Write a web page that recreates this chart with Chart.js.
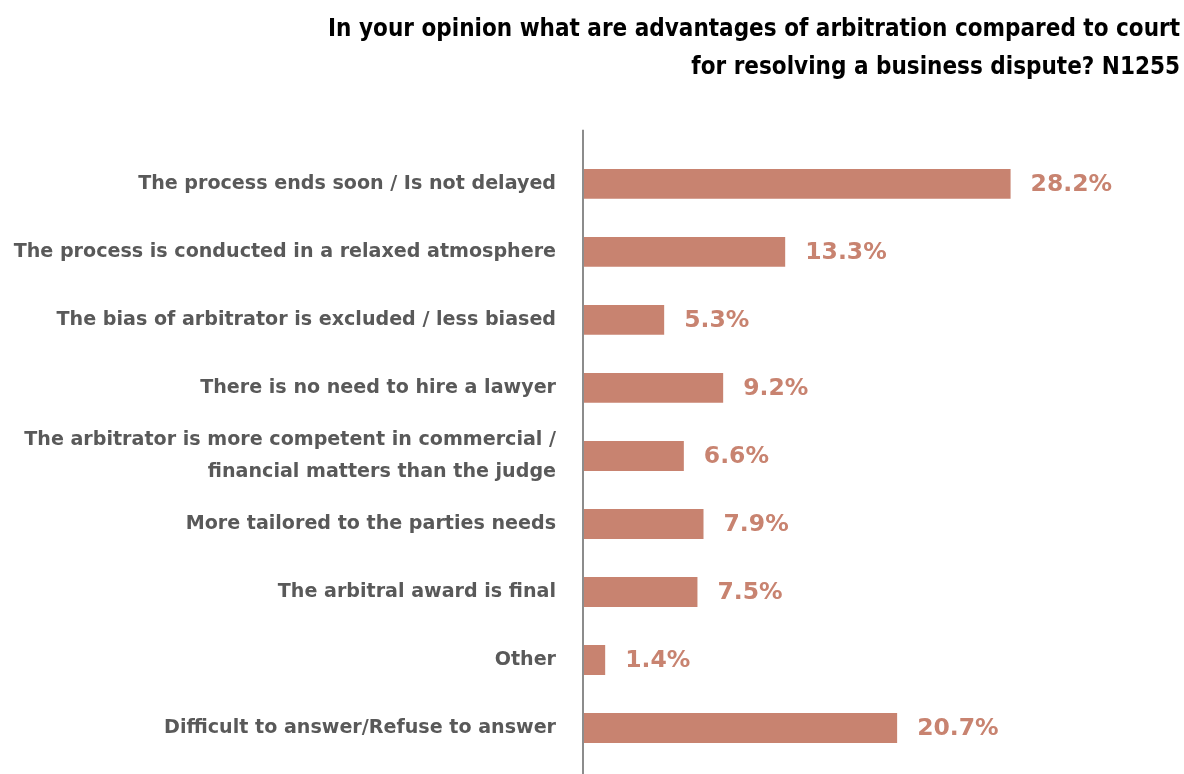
<!DOCTYPE html>
<html>
<head>
<meta charset="utf-8">
<script src="https://cdn.jsdelivr.net/npm/chart.js@4"></script>
<style>
  html, body { margin: 0; padding: 0; background: #fff; }
  #wrap { width: 1184px; height: 774px; }
</style>
</head>
<body>
<div id="wrap"><canvas id="arbChart" width="1184" height="774"></canvas></div>
<script>
const categories = [
    'The process ends soon / Is not delayed',
    'The process is conducted in a relaxed atmosphere',
    'The bias of arbitrator is excluded / less biased',
    'There is no need to hire a lawyer',
    ['The arbitrator is more competent in commercial /', 'financial matters than the judge'],
    'More tailored to the parties needs',
    'The arbitral award is final',
    'Other',
    'Difficult to answer/Refuse to answer'
];

const shares = [28.2, 13.3, 5.3, 9.2, 6.6, 7.9, 7.5, 1.4, 20.7];

const titleLines = [
    'In your opinion what are advantages of arbitration compared to court',
    'for resolving a business dispute? N1255'
];

const barColor = 'rgb(200, 131, 112)';
const labelGray = '#595959';

// vertical baseline at zero, runs a bit past the plot area
const baselinePlugin = {
    id: 'baseline',
    afterDatasetsDraw(chart) {
        const { ctx, chartArea, scales } = chart;
        const x0 = Math.round(scales.x.getPixelForValue(0)) - 1;
        ctx.save();
        ctx.strokeStyle = '#8c8c8c';
        ctx.lineWidth = 2;
        ctx.beginPath();
        ctx.moveTo(x0, chartArea.top - 20);
        ctx.lineTo(x0, chart.height);
        ctx.stroke();
        ctx.restore();
    }
};

// percentage written just after each bar
const valueLabels = {
    id: 'valueLabels',
    afterDatasetsDraw(chart) {
        const { ctx } = chart;
        const meta = chart.getDatasetMeta(0);
        ctx.save();
        ctx.fillStyle = barColor;
        ctx.font = 'bold 23.5px "DejaVu Sans"';
        ctx.textAlign = 'left';
        ctx.textBaseline = 'middle';
        meta.data.forEach((bar, i) => {
            ctx.fillText(shares[i].toFixed(1) + '%', bar.x + 20, bar.y + 1);
        });
        ctx.restore();
    }
};

const ctx = document.getElementById('arbChart').getContext('2d');
const arbChart = new Chart(ctx, {
    type: 'bar',
    data: {
        labels: categories,
        datasets: [{
            data: shares,
            backgroundColor: barColor,
            borderWidth: 0,
            categoryPercentage: 1,
            barPercentage: 0.44
        }]
    },
    options: {
        indexAxis: 'y',
        responsive: false,
        animation: false,
        layout: {
            padding: { top: 0, right: 4, bottom: 12, left: 0 }
        },
        scales: {
            x: {
                display: false,
                min: 0,
                max: 39.4
            },
            y: {
                afterFit(scale) {
                    scale.width = 584;
                    scale.paddingTop = 0;
                    scale.paddingBottom = 0;
                },
                grid: { display: false, drawTicks: false },
                border: { display: false },
                ticks: {
                    color: labelGray,
                    padding: 28,
                    font: { family: '"DejaVu Sans"', size: 19.1, weight: 'bold', lineHeight: 1.68 }
                }
            }
        },
        plugins: {
            legend: { display: false },
            tooltip: { enabled: false },
            title: {
                display: true,
                text: titleLines,
                align: 'end',
                color: '#000',
                font: { family: '"DejaVu Sans Condensed"', size: 24, weight: 'bold', lineHeight: 1.58 },
                padding: { top: 11, bottom: 63 }
            }
        }
    },
    plugins: [baselinePlugin, valueLabels]
});
</script>
</body>
</html>
